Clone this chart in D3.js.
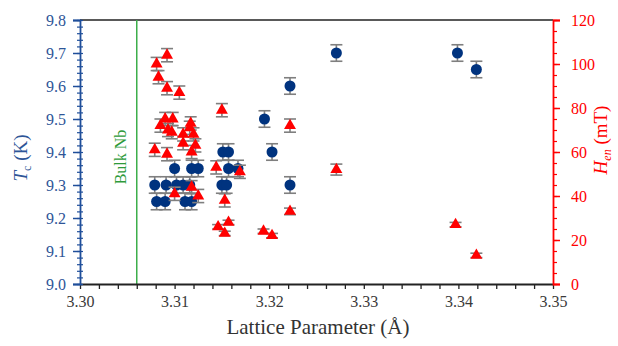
<!DOCTYPE html>
<html>
<head>
<meta charset="utf-8">
<script src="https://cdn.jsdelivr.net/npm/d3@7"></script>
<style>
  html, body { margin: 0; padding: 0; background: #fff; }
  svg { display: block; }
  .lbl { font-family: "Liberation Serif", "DejaVu Serif", "Liberation Sans", sans-serif; }
</style>
</head>
<body>
<svg id="chart" width="618" height="346"></svg>
<script>
// Critical temperature Tc (K) against lattice parameter (Å)
const tcLattice = [3.3271, 3.3399, 3.3419, 3.3222, 3.3195, 3.3203, 3.3222,
  3.3151, 3.3157,
  3.3100, 3.3118, 3.3125, 3.3157, 3.3167,
  3.3079, 3.3091, 3.3102, 3.3109, 3.3116, 3.3150, 3.3155,
  3.3081, 3.3090, 3.3111, 3.3118];
const tcValues = [9.70, 9.70, 9.65, 9.60, 9.50, 9.40, 9.30,
  9.40, 9.40,
  9.35, 9.35, 9.35, 9.35, 9.35,
  9.30, 9.30, 9.30, 9.30, 9.30, 9.30, 9.30,
  9.25, 9.25, 9.25, 9.25];
const tcError = 0.025;

// Field of first flux entry Hen (mT) against lattice parameter (Å)
const henLattice = [3.3081, 3.3092, 3.3083, 3.3092, 3.3105, 3.3150, 3.3090, 3.3098,
  3.3085, 3.3093, 3.3097, 3.3117, 3.3116, 3.3120, 3.3109, 3.3109, 3.3122, 3.3118,
  3.3079, 3.3092, 3.3144, 3.3169, 3.3118, 3.3100, 3.3125, 3.3153, 3.3146, 3.3157,
  3.3153, 3.3194, 3.3203, 3.3222, 3.3222, 3.3271, 3.3397, 3.3419];
const henValues = [100, 104, 94, 89, 87, 79, 75, 75,
  72, 70, 69, 73, 71, 68, 68, 64, 63, 60,
  61, 59, 53, 51, 44, 41, 40, 38, 26, 28,
  23, 24, 22, 33, 72, 52, 27, 13];
const henError = [3, 3, 3, 3, 3, 3, 3, 3,
  3, 3, 3, 3, 3, 3, 3, 3, 3, 3,
  3, 3, 3, 3, 3, 3, 3, 3, 1, 1,
  1, 1, 1, 1.5, 3, 2.5, 1, 1];

const bulkNb = 3.306;

const xTicks = [3.30, 3.31, 3.32, 3.33, 3.34, 3.35];
const tcTicks = [9.0, 9.1, 9.2, 9.3, 9.4, 9.5, 9.6, 9.7, 9.8];
const henTicks = [0, 20, 40, 60, 80, 100, 120];

const W = 618, H = 346;
const margin = { left: 80, right: 65, top: 20, bottom: 62 };
const x0 = margin.left, x1 = W - margin.right;
const y0 = H - margin.bottom, y1 = margin.top;

const BLUE = "#1f4e9a", NAVY = "#00337f", RED = "#ff0000", GREEN = "#3cae4a", GREY = "#7f7f7f";
const TICK_FS = 16;

const svg = d3.select("#chart");

const x = d3.scaleLinear().domain([3.30, 3.35]).range([x0, x1]);
const yT = d3.scaleLinear().domain([9.0, 9.8]).range([y0, y1]);
const yH = d3.scaleLinear().domain([0, 120]).range([y0, y1]);

// top frame line
svg.append("line").attr("x1", x0).attr("x2", x1).attr("y1", y1).attr("y2", y1)
  .attr("stroke", "#222").attr("stroke-width", 1.5);

// bulk Nb reference line
svg.append("line").attr("x1", x(bulkNb)).attr("x2", x(bulkNb)).attr("y1", y1).attr("y2", y0)
  .attr("stroke", GREEN).attr("stroke-width", 1.5);
svg.append("text").attr("class", "lbl")
  .attr("transform", `translate(${x(bulkNb) - 16},157) rotate(-90)`)
  .attr("text-anchor", "middle").attr("dominant-baseline", "central")
  .attr("fill", "#2e9a3a").attr("font-size", 16).text("Bulk Nb");

// bottom axis
const gx = svg.append("g").attr("transform", `translate(0,${y0})`);
gx.call(d3.axisBottom(x).tickValues(d3.range(0, 26).map(i => 3.30 + i * 0.002))
  .tickSize(5).tickFormat(""));
gx.call(g => g.select(".domain").remove());
gx.selectAll(".tick line").attr("stroke", "#222").attr("stroke-width", 1.3);
const gx2 = svg.append("g").attr("transform", `translate(0,${y0})`);
gx2.call(d3.axisBottom(x).tickValues(xTicks).tickSize(0).tickPadding(12)
  .tickFormat(d3.format(".2f")));
gx2.attr("font-family", null);
gx2.select(".domain").attr("stroke", "#222").attr("stroke-width", 1.8);
gx2.selectAll(".tick text").attr("class", "lbl").attr("fill", "#3a3a3a").attr("font-size", TICK_FS);

// left axis (Tc)
const gl = svg.append("g").attr("transform", `translate(${x0},0)`);
gl.call(d3.axisLeft(yT).tickValues(d3.range(0, 41).map(i => 9.0 + i * 0.02))
  .tickSize(3).tickFormat(""));
gl.call(g => g.select(".domain").remove());
gl.selectAll(".tick line").attr("stroke", BLUE).attr("stroke-width", 1.2).attr("x2", 3).attr("x1", -3);
const gl2 = svg.append("g").attr("transform", `translate(${x0},0)`);
gl2.call(d3.axisLeft(yT).tickValues(tcTicks).tickSize(7).tickPadding(7)
  .tickFormat(d3.format(".1f")));
gl2.attr("font-family", null);
gl2.select(".domain").attr("stroke", BLUE).attr("stroke-width", 1.8);
gl2.selectAll(".tick line").attr("stroke", BLUE).attr("stroke-width", 1.5);
gl2.selectAll(".tick text").attr("class", "lbl").attr("fill", "#2e5597").attr("font-size", TICK_FS);

// right axis (Hen)
const gr = svg.append("g").attr("transform", `translate(${x1},0)`);
gr.call(d3.axisRight(yH).tickValues(d3.range(0, 25).map(i => i * 5))
  .tickSize(4).tickFormat(""));
gr.call(g => g.select(".domain").remove());
gr.selectAll(".tick line").attr("stroke", RED).attr("stroke-width", 1.2);
const gr2 = svg.append("g").attr("transform", `translate(${x1},0)`);
gr2.call(d3.axisRight(yH).tickValues(henTicks).tickSize(7).tickPadding(11));
gr2.attr("font-family", null);
gr2.select(".domain").attr("stroke", RED).attr("stroke-width", 1.8);
gr2.selectAll(".tick line").attr("stroke", RED).attr("stroke-width", 1.5);
gr2.selectAll(".tick text").attr("class", "lbl").attr("fill", RED).attr("font-size", TICK_FS);

// axis titles
svg.append("text").attr("class", "lbl").attr("x", 318).attr("y", 334)
  .attr("text-anchor", "middle").attr("fill", "#333").attr("font-size", 21)
  .text("Lattice Parameter (Å)");

const tTitle = svg.append("text").attr("class", "lbl")
  .attr("transform", `translate(27,158) rotate(-90)`)
  .attr("text-anchor", "middle").attr("fill", "#2e5597").attr("font-size", 19);
tTitle.append("tspan").attr("font-style", "italic").text("T");
tTitle.append("tspan").attr("font-size", 12).attr("dy", 4).text("c");
tTitle.append("tspan").attr("dy", -4).text(" (K)");

const hTitle = svg.append("text").attr("class", "lbl")
  .attr("transform", `translate(607,140) rotate(-90)`)
  .attr("text-anchor", "middle").attr("fill", RED).attr("font-size", 19);
hTitle.append("tspan").attr("font-style", "italic").text("H");
hTitle.append("tspan").attr("font-size", 12).attr("font-style", "italic").attr("dy", 4).text("en");
hTitle.append("tspan").attr("dy", -4).text(" (mT)");

// error bar helper
function errorBars(g, xs, lo, hi, capHalf) {
  const sel = g.selectAll("g.err").data(xs.map((d, i) => i)).join("g").attr("class", "err");
  sel.append("line").attr("x1", i => x(xs[i])).attr("x2", i => x(xs[i]))
    .attr("y1", i => lo(i)).attr("y2", i => hi(i));
  sel.append("line").attr("x1", i => x(xs[i]) - capHalf).attr("x2", i => x(xs[i]) + capHalf)
    .attr("y1", i => lo(i)).attr("y2", i => lo(i));
  sel.append("line").attr("x1", i => x(xs[i]) - capHalf).attr("x2", i => x(xs[i]) + capHalf)
    .attr("y1", i => hi(i)).attr("y2", i => hi(i));
  sel.selectAll("line").attr("stroke", GREY).attr("stroke-width", 1.6);
}

// Tc series
const gT = svg.append("g");
errorBars(gT, tcLattice,
  i => yT(tcValues[i] - tcError), i => yT(tcValues[i] + tcError), 6);
gT.selectAll("circle").data(tcLattice.map((d, i) => i)).join("circle")
  .attr("cx", i => x(tcLattice[i])).attr("cy", i => yT(tcValues[i]))
  .attr("r", 5.5).attr("fill", NAVY);

// Hen series
const gH = svg.append("g");
errorBars(gH, henLattice,
  i => yH(henValues[i] - henError[i]), i => yH(henValues[i] + henError[i]), 6);
const tri = d3.symbol().type(d3.symbolTriangle).size(62);
gH.selectAll("path.tri").data(henLattice.map((d, i) => i)).join("path").attr("class", "tri")
  .attr("transform", i => `translate(${x(henLattice[i])},${yH(henValues[i])})`)
  .attr("d", tri).attr("fill", RED);
</script>
</body>
</html>
